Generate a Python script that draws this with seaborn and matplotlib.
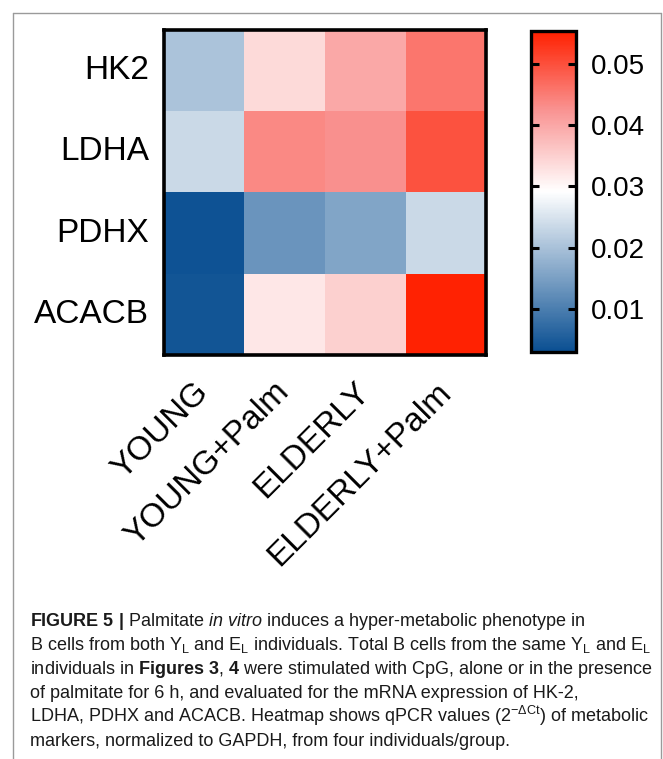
import matplotlib
matplotlib.use("Agg")
import matplotlib.pyplot as plt
from matplotlib import font_manager as fm
from matplotlib.colors import LinearSegmentedColormap
from matplotlib.lines import Line2D
from matplotlib.transforms import ScaledTranslation
import pandas as pd
import seaborn as sns

# ---- data ----
genes = ["HK2", "LDHA", "PDHX", "ACACB"]
groups = ["YOUNG", "YOUNG+Palm", "ELDERLY", "ELDERLY+Palm"]
young = [0.0202, 0.0236, 0.0035, 0.0040]
young_palm = [0.0338, 0.0435, 0.0134, 0.0321]
elderly = [0.0399, 0.0428, 0.0157, 0.0350]
elderly_palm = [0.0456, 0.0497, 0.0235, 0.0550]
cbar_ticks = [0.01, 0.02, 0.03, 0.04, 0.05]
cbar_ticklabels = ["0.01", "0.02", "0.03", "0.04", "0.05"]

caption_lines = [
    r"$\mathbf{FIGURE\ 5\ |}$ Palmitate $\mathit{in\ vitro}$ induces a hyper-metabolic phenotype in",
    r"B cells from both Y$_{\mathrm{L}}$ and E$_{\mathrm{L}}$ individuals. Total B cells from the same Y$_{\mathrm{L}}$ and E$_{\mathrm{L}}$",
    r"individuals in $\mathbf{Figures\ 3}$, $\mathbf{4}$ were stimulated with CpG, alone or in the presence",
    r"of palmitate for 6 h, and evaluated for the mRNA expression of HK-2,",
    r"LDHA, PDHX and ACACB. Heatmap shows qPCR values (2$^{-\Delta\mathrm{Ct}}$) of metabolic",
    r"markers, normalized to GAPDH, from four individuals/group.",
]

df = pd.DataFrame({g: v for g, v in zip(groups, [young, young_palm, elderly, elderly_palm])},
                  index=genes)

sns.set_theme(style="white")
names = {f.name for f in fm.fontManager.ttflist}
narrow = "Liberation Sans Narrow" if "Liberation Sans Narrow" in names else "Liberation Sans"
plt.rcParams["font.family"] = ["Liberation Sans", "DejaVu Sans"]
plt.rcParams["mathtext.fontset"] = "custom"
plt.rcParams["mathtext.rm"] = narrow
plt.rcParams["mathtext.it"] = narrow + ":italic"
plt.rcParams["mathtext.bf"] = narrow + ":bold"

W, H = 663, 759
fig = plt.figure(figsize=(W / 100, H / 100), dpi=100)
fig.patch.set_facecolor("white")

def fx(px):
    return px / W

def fy(py):
    return 1 - py / H

ax = fig.add_axes([fx(163.5), fy(355.5), fx(486.5) - fx(163.5), fy(29.5) - fy(355.5)])
cax = fig.add_axes([fx(531), fy(352), fx(576) - fx(531), fy(31) - fy(352)])

cmap = LinearSegmentedColormap.from_list(
    "bwr_custom",
    [(0.0, "#0a4f92"), (0.5, "#ffffff"), (0.75, "#f99594"), (1.0, "#ff2000")])

sns.heatmap(df, ax=ax, cbar_ax=cax, cmap=cmap, vmin=0.0030, vmax=0.0553,
            cbar_kws={"ticks": cbar_ticks}, linewidths=0)

for s in ax.spines.values():
    s.set_visible(True)
    s.set_linewidth(2.6)
    s.set_color("black")
ax.tick_params(axis="both", length=0)
ax.set_xlabel("")
ax.set_ylabel("")
ax.set_yticklabels(genes, rotation=0, fontsize=24, color="black")
ax.tick_params(axis="y", pad=10.5)
ax.set_xticklabels(groups, rotation=45, ha="right", va="top",
                   rotation_mode="anchor", fontsize=24, color="black")
ax.tick_params(axis="x", pad=15)
shift = ScaledTranslation(-11 / 100, 0, fig.dpi_scale_trans)
for lab in ax.get_xticklabels():
    lab.set_transform(lab.get_transform() + shift)

cbar = ax.collections[0].colorbar
cbar.outline.set_linewidth(2.4)
cbar.outline.set_edgecolor("black")
cax.set_axisbelow(False)
cax.set_yticks(cbar_ticks)
cax.set_yticklabels(cbar_ticklabels)
cax.tick_params(axis="y", direction="in", left=True, right=True, length=6, width=2.2,
                labelsize=20, pad=11, colors="black")

# outer figure frame
border = "#9a9a9a"
fig.add_artist(Line2D([fx(12.5), fx(12.5)], [fy(12.5), 0], color=border, lw=1.0))
fig.add_artist(Line2D([fx(12.5), fx(660.5)], [fy(12.5), fy(12.5)], color=border, lw=1.0))
fig.add_artist(Line2D([fx(660.5), fx(660.5)], [fy(12.5), 0], color=border, lw=1.0))

baselines = [626, 650, 674, 698, 722, 746]
for line, yb in zip(caption_lines, baselines):
    fig.text(fx(30), fy(yb), line, fontsize=13, family=[narrow, "DejaVu Sans"],
             ha="left", va="baseline", color="#1a1a1a")

fig.savefig("out.png", dpi=100, facecolor="white")
